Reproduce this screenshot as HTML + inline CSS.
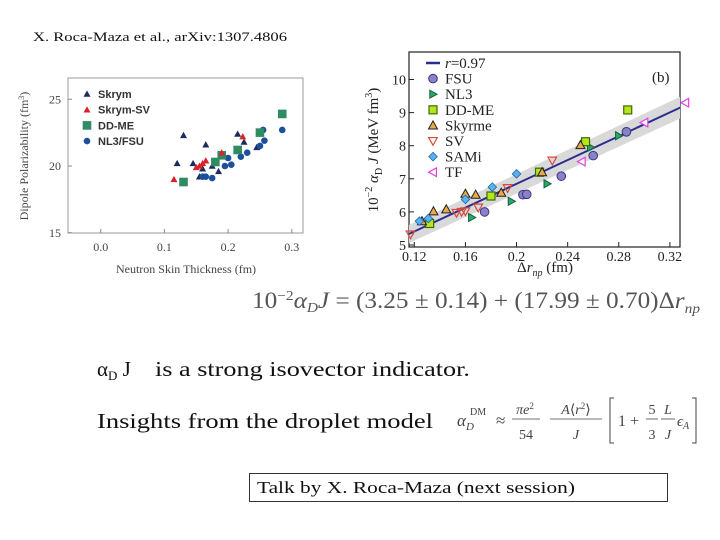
<!DOCTYPE html>
<html><head><meta charset="utf-8">
<style>
body{margin:0;background:#fff;}
svg{display:block;font-family:"Liberation Serif",serif;}
.sans{font-family:"Liberation Sans",sans-serif;}
</style></head>
<body>
<svg id="s" width="720" height="540" viewBox="0 0 720 540" xmlns="http://www.w3.org/2000/svg">
<defs><clipPath id="rclip"><rect x="409" y="52" width="271" height="195"/></clipPath></defs>
<text x="33" y="41" font-size="13" fill="#111" textLength="254" lengthAdjust="spacingAndGlyphs">X. Roca-Maza et al., arXiv:1307.4806</text>

<!-- Left chart -->
<g id="left">
  <rect x="68" y="78" width="235" height="155" fill="#fff" stroke="#999" stroke-width="1"/>
  <text x="28" y="156" font-size="12" fill="#444" text-anchor="middle" transform="rotate(-90 28 156)">Dipole Polarizability (fm<tspan dy="-4" font-size="8">3</tspan><tspan dy="4">)</tspan></text>
  <text x="186" y="273" font-size="12" fill="#444" text-anchor="middle">Neutron Skin Thickness (fm)</text>
  <g id="lticks"></g>
  <g id="lmarks"></g>
  <g id="llegend" class="sans" font-size="11" font-weight="bold" fill="#333"></g>
</g>

<!-- Right chart -->
<g id="right">
  <rect x="409" y="52" width="271" height="195" fill="#fff" stroke="#222" stroke-width="1.2"/>
  <g id="rband" clip-path="url(#rclip)"></g>
  <g id="rticks"></g>
  <g id="rmarks"></g>
  <text x="378" y="150" font-size="15" fill="#222" text-anchor="middle" transform="rotate(-90 378 150)">10<tspan dy="-6" font-size="10">−2</tspan><tspan dy="6" font-style="italic"> α</tspan><tspan dy="4" font-size="10">D</tspan><tspan dy="-4" font-style="italic"> J</tspan>  (MeV fm<tspan dy="-6" font-size="10">3</tspan><tspan dy="6">)</tspan></text>
  <text x="545" y="272" font-size="15" fill="#222" text-anchor="middle">Δ<tspan font-style="italic">r</tspan><tspan dy="4" font-size="10" font-style="italic">np</tspan><tspan dy="-4">   (fm)</tspan></text>
  <text x="652" y="82" font-size="15" fill="#222">(b)</text>
  <g id="rlegend" font-size="15" fill="#222"></g>
</g>

<text x="252" y="308" font-size="23" fill="#555" textLength="448" lengthAdjust="spacingAndGlyphs">10<tspan dy="-8" font-size="14">−2</tspan><tspan dy="8" font-style="italic">α<tspan dy="4" font-size="14">D</tspan><tspan dy="-4">J</tspan></tspan> = (3.25 ± 0.14) + (17.99 ± 0.70)Δ<tspan font-style="italic">r<tspan dy="5" font-size="14">np</tspan></tspan></text>

<text x="97" y="376" font-size="21" fill="#111">α<tspan dy="4" font-size="13">D</tspan><tspan dy="-4"> J</tspan></text>
<text x="155" y="376" font-size="21" fill="#111" textLength="315" lengthAdjust="spacingAndGlyphs">is a strong isovector indicator.</text>
<text x="97" y="428" font-size="21" fill="#111" textLength="336" lengthAdjust="spacingAndGlyphs">Insights from the droplet model</text>

<g fill="#444">
  <text x="457" y="426" font-size="17" font-style="italic">α<tspan dy="4" font-size="11">D</tspan></text>
  <text x="470" y="415" font-size="10">DM</text>
  <text x="496" y="426" font-size="17">≈</text>
  <text x="525" y="414" font-size="14" text-anchor="middle"><tspan font-style="italic">πe</tspan><tspan dy="-5" font-size="9">2</tspan></text>
  <line x1="512" y1="419" x2="540" y2="419" stroke="#444" stroke-width="0.8"/>
  <text x="526" y="439" font-size="14" text-anchor="middle">54</text>
  <text x="576" y="414" font-size="14" text-anchor="middle"><tspan font-style="italic">A</tspan>⟨<tspan font-style="italic">r</tspan><tspan dy="-5" font-size="9">2</tspan><tspan dy="5">⟩</tspan></text>
  <line x1="550" y1="419" x2="602" y2="419" stroke="#444" stroke-width="0.8"/>
  <text x="576" y="439" font-size="14" text-anchor="middle" font-style="italic">J</text>
  <path d="M614 398 h-4 v45 h4" fill="none" stroke="#444" stroke-width="1"/>
  <text x="618" y="426" font-size="16">1 +</text>
  <text x="652" y="414" font-size="14" text-anchor="middle">5</text>
  <line x1="646" y1="419" x2="658" y2="419" stroke="#444" stroke-width="0.8"/>
  <text x="652" y="439" font-size="14" text-anchor="middle">3</text>
  <text x="668" y="414" font-size="14" text-anchor="middle" font-style="italic">L</text>
  <line x1="661" y1="419" x2="675" y2="419" stroke="#444" stroke-width="0.8"/>
  <text x="668" y="439" font-size="14" text-anchor="middle" font-style="italic">J</text>
  <text x="677" y="426" font-size="15" font-style="italic">ϵ<tspan dy="3" font-size="10">A</tspan></text>
  <path d="M692 398 h4 v45 h-4" fill="none" stroke="#444" stroke-width="1"/>
</g>

<rect x="249.5" y="473.5" width="418" height="28" fill="#fff" stroke="#333" stroke-width="1"/>
<text x="257" y="493" font-size="17" fill="#111" textLength="318" lengthAdjust="spacingAndGlyphs">Talk by X. Roca-Maza (next session)</text>
</svg>

<script>
// ===== Left chart data =====
const lSkrymX = [0.12,0.13,0.145,0.165,0.16,0.175,0.185,0.215,0.225,0.155,0.245];
const lSkrymY = [20.2,22.3,20.2,21.6,19.8,20.0,19.6,22.4,21.8,19.2,21.4];
const lSkrymSVX = [0.115,0.15,0.155,0.16,0.165,0.19,0.223];
const lSkrymSVY = [19.0,19.9,20.0,20.2,20.4,21.0,22.2];
const lDDMEX = [0.13,0.18,0.19,0.215,0.25,0.285];
const lDDMEY = [18.8,20.3,20.8,21.2,22.5,23.9];
const lNLX = [0.16,0.165,0.175,0.195,0.2,0.205,0.22,0.23,0.25,0.257,0.255,0.285];
const lNLY = [19.2,19.2,19.1,20.0,20.6,20.1,20.7,21.0,21.5,21.9,22.7,22.7];
const lXTicks = [0.0,0.1,0.2,0.3];
const lXTickLabels = ["0.0","0.1","0.2","0.3"];
const lYTicks = [15,20,25];

// ===== Right chart data =====
const rFSUX = [0.175,0.205,0.208,0.235,0.26,0.286];
const rFSUY = [6.0,6.52,6.53,7.08,7.7,8.42];
const rNL3X = [0.165,0.196,0.224,0.258,0.28];
const rNL3Y = [5.83,6.32,6.85,7.95,8.3];
const rDDMEX = [0.132,0.18,0.218,0.254,0.287];
const rDDMEY = [5.65,6.48,7.2,8.12,9.08];
const rSkyX = [0.126,0.135,0.145,0.16,0.168,0.188,0.22,0.25];
const rSkyY = [5.72,6.02,6.08,6.55,6.52,6.58,7.2,8.02];
const rSVX = [0.117,0.153,0.157,0.16,0.17,0.193,0.228];
const rSVY = [5.32,5.97,6.0,6.02,6.13,6.72,7.55];
const rSAMiX = [0.124,0.131,0.16,0.181,0.2];
const rSAMiY = [5.72,5.8,6.38,6.75,7.15];
const rTFX = [0.251,0.3,0.332];
const rTFY = [7.52,8.7,9.3];
const rFitIntercept = 3.25;
const rFitSlope = 17.99;
const rXTicks = [0.12,0.16,0.2,0.24,0.28,0.32];
const rXTickLabels = ["0.12","0.16","0.2","0.24","0.28","0.32"];
const rYTicks = [5,6,7,8,9,10];

const NS = "http://www.w3.org/2000/svg";
function mk(tag, attrs, parent){const e=document.createElementNS(NS,tag);for(const k in attrs)e.setAttribute(k,attrs[k]);parent.appendChild(e);return e;}

const lx = v => 100.7 + (v-0)*637;
const ly = v => 166 - (v-20)*13.35;
const rx = v => 414.3 + (v-0.12)*1278;
const ry = v => 245 - (v-5)*33.1;

function tri(g,cx,cy,s,fill,stroke){return mk('polygon',{points:`${cx},${cy-s} ${cx-s},${cy+s*0.8} ${cx+s},${cy+s*0.8}`,fill:fill,stroke:stroke||'none','stroke-width':1},g);}
function triDown(g,cx,cy,s,fill,stroke){return mk('polygon',{points:`${cx},${cy+s} ${cx-s},${cy-s*0.8} ${cx+s},${cy-s*0.8}`,fill:fill,stroke:stroke,'stroke-width':1.2},g);}
function triRight(g,cx,cy,s,fill,stroke){return mk('polygon',{points:`${cx+s},${cy} ${cx-s*0.8},${cy-s} ${cx-s*0.8},${cy+s}`,fill:fill,stroke:stroke,'stroke-width':1},g);}
function triLeft(g,cx,cy,s,fill,stroke){return mk('polygon',{points:`${cx-s},${cy} ${cx+s*0.8},${cy-s} ${cx+s*0.8},${cy+s}`,fill:fill,stroke:stroke,'stroke-width':1.2},g);}
function sq(g,cx,cy,s,fill,stroke){return mk('rect',{x:cx-s,y:cy-s,width:2*s,height:2*s,fill:fill,stroke:stroke||'none','stroke-width':1.2},g);}
function circ(g,cx,cy,r,fill,stroke){return mk('circle',{cx:cx,cy:cy,r:r,fill:fill,stroke:stroke||'none','stroke-width':1},g);}
function dia(g,cx,cy,s,fill,stroke){return mk('polygon',{points:`${cx},${cy-s} ${cx+s},${cy} ${cx},${cy+s} ${cx-s},${cy}`,fill:fill,stroke:stroke,'stroke-width':0.8},g);}

// ----- Left chart -----
const lt = document.getElementById('lticks');
lXTicks.forEach((v,i)=>{
  const l=mk('line',{x1:lx(v),y1:233,x2:lx(v),y2:229,stroke:'#888'},lt);
  
  
  const t=mk('text',{x:lx(v),y:251,'font-size':12,fill:'#444','text-anchor':'middle'},lt);
  t.textContent=lXTickLabels[i];
  
  
});
lYTicks.forEach(v=>{
  const l=mk('line',{x1:68,y1:ly(v),x2:72,y2:ly(v),stroke:'#888'},lt);
  
  
  const t=mk('text',{x:61,y:ly(v)+4,'font-size':12,fill:'#444','text-anchor':'end'},lt);
  t.textContent=String(v);
  
  
});
const lm = document.getElementById('lmarks');
lSkrymX.forEach((x,i)=>{const e=tri(lm,lx(x),ly(lSkrymY[i]),3.5,'#1f2a5c');
  
  });
lNLX.forEach((x,i)=>{const e=circ(lm,lx(x),ly(lNLY[i]),3.3,'#1d4f9a');
  
  });
lDDMEX.forEach((x,i)=>{const e=sq(lm,lx(x),ly(lDDMEY[i]),4.3,'#2e8b63');
  
  });
lSkrymSVX.forEach((x,i)=>{const e=tri(lm,lx(x),ly(lSkrymSVY[i]),3.5,'#d8232a');
  
  });
const ll = document.getElementById('llegend');
const lLegNames=["Skrym","Skrym-SV","DD-ME","NL3/FSU"];
lLegNames.forEach((n,i)=>{
  const y=94+i*15.7;
  let e;
  if(i==0) e=tri(ll,87,y,3.5,'#1f2a5c');
  if(i==1) e=tri(ll,87,y,3.5,'#d8232a');
  if(i==2) e=sq(ll,87,y,4.3,'#2e8b63');
  if(i==3) e=circ(ll,87,y,3.3,'#1d4f9a');
  
  
  const t=mk('text',{x:98,y:y+4},ll);t.textContent=n;
  
  
});

// ----- Right chart -----
const rb = document.getElementById('rband');
const fx0=0.115, fx1=0.335;
const band=mk('polygon',{points:`${rx(fx0)},${ry(rFitIntercept+rFitSlope*fx0)-9} ${rx(fx1)},${ry(rFitIntercept+rFitSlope*fx1)-11} ${rx(fx1)},${ry(rFitIntercept+rFitSlope*fx1)+11} ${rx(fx0)},${ry(rFitIntercept+rFitSlope*fx0)+9}`,fill:'#d9d9d9'},rb);


const fl=mk('line',{x1:rx(fx0),y1:ry(rFitIntercept+rFitSlope*fx0),x2:rx(fx1),y2:ry(rFitIntercept+rFitSlope*fx1),stroke:'#2b2b8f','stroke-width':2},rb);



const rt = document.getElementById('rticks');
rXTicks.forEach((v,i)=>{
  const l=mk('line',{x1:rx(v),y1:247,x2:rx(v),y2:242,stroke:'#222'},rt);
  
  
  const t=mk('text',{x:rx(v),y:261,'font-size':14,fill:'#222','text-anchor':'middle'},rt);
  t.textContent=rXTickLabels[i];
  
  
});
rYTicks.forEach(v=>{
  const l=mk('line',{x1:409,y1:ry(v),x2:414,y2:ry(v),stroke:'#222'},rt);
  
  
  const t=mk('text',{x:406,y:ry(v)+5,'font-size':14,fill:'#222','text-anchor':'end'},rt);
  t.textContent=String(v);
  
  
});

const rm = document.getElementById('rmarks');
rFSUX.forEach((x,i)=>{const e=circ(rm,rx(x),ry(rFSUY[i]),4.3,'#8a82c8','#3a3580');
  
  });
rNL3X.forEach((x,i)=>{const e=triRight(rm,rx(x),ry(rNL3Y[i]),4,'#2aa86a','#14603b');
  
  });
rDDMEX.forEach((x,i)=>{const e=sq(rm,rx(x),ry(rDDMEY[i]),4,'#b5e61d','#3b6b00');
  
  });
rSkyX.forEach((x,i)=>{const e=tri(rm,rx(x),ry(rSkyY[i]),4.5,'#e8a84a','#222');
  
  });
rSVX.forEach((x,i)=>{const e=triDown(rm,rx(x),ry(rSVY[i]),4.3,'none','#d84a3a');
  
  });
rSAMiX.forEach((x,i)=>{const e=dia(rm,rx(x),ry(rSAMiY[i]),4.3,'#5ab0f0','#1e6aa8');
  
  });
rTFX.forEach((x,i)=>{const e=triLeft(rm,rx(x),ry(rTFY[i]),4.3,'#fff','#e040e0');
  
  });

const rl = document.getElementById('rlegend');
const rLegNames=["r=0.97","FSU","NL3","DD-ME","Skyrme","SV","SAMi","TF"];
rLegNames.forEach((n,i)=>{
  const y=63+i*15.6;
  let e;
  if(i==0) e=mk('line',{x1:426,y1:y,x2:440,y2:y,stroke:'#2b2b8f','stroke-width':2.5},rl);
  if(i==1) e=circ(rl,433,y,4.3,'#8a82c8','#3a3580');
  if(i==2) e=triRight(rl,433,y,4,'#2aa86a','#14603b');
  if(i==3) e=sq(rl,433,y,4,'#b5e61d','#3b6b00');
  if(i==4) e=tri(rl,433,y,4.5,'#e8a84a','#222');
  if(i==5) e=triDown(rl,433,y,4.3,'none','#d84a3a');
  if(i==6) e=dia(rl,433,y,4.3,'#5ab0f0','#1e6aa8');
  if(i==7) e=triLeft(rl,433,y,4.3,'#fff','#e040e0');
  
  
  const t=mk('text',{x:445,y:y+5},rl);
  if(i==0){t.innerHTML='<tspan font-style="italic">r</tspan>=0.97';} else t.textContent=n;
  
  
});
</script>
</body></html>
